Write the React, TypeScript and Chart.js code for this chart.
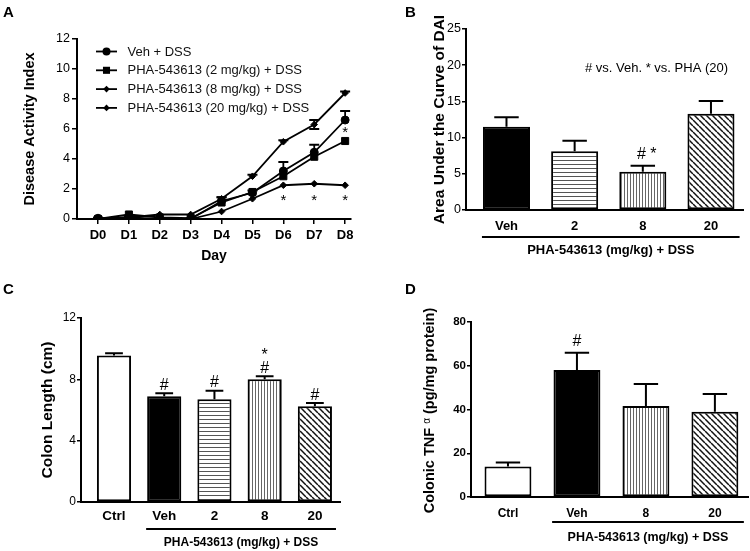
import React, { useEffect, useRef } from 'react';
import { Chart, registerables } from 'chart.js';

Chart.register(...registerables);
Chart.defaults.color = '#000';

const SANS = 'Arial, "Liberation Sans", Helvetica, sans-serif';
Chart.defaults.font.family = SANS;

// ---------------- Panel A : Disease Activity Index ----------------
const dayLabels = ['D0', 'D1', 'D2', 'D3', 'D4', 'D5', 'D6', 'D7', 'D8'];
const daiVeh = [0.05, 0.1, 0.0, 0.0, 1.2, 1.75, 3.2, 4.45, 6.6];
const daiVehErr = [0.05, 0.1, 0.05, 0.05, 0.25, 0.15, 0.6, 0.5, 0.6];
const daiPha2 = [0.0, 0.3, 0.1, 0.05, 1.1, 1.8, 2.85, 4.15, 5.2];
const daiPha8 = [0.0, 0.0, 0.0, 0.0, 0.5, 1.35, 2.25, 2.35, 2.25];
const daiPha20 = [0.0, 0.1, 0.3, 0.3, 1.35, 2.85, 5.15, 6.3, 8.4];
const daiPha20Err = [0, 0, 0, 0, 0.1, 0.1, 0.1, 0.3, 0.1];
const daiLegend = [
  'Veh + DSS',
  'PHA-543613 (2 mg/kg) + DSS',
  'PHA-543613 (8 mg/kg) + DSS',
  'PHA-543613 (20 mg/kg) + DSS',
];
const daiStarDays = [6, 7, 8];
const daiStarLevel = 1.5;
const daiVehStarDay = 8;
const daiVehStarLevel = 6.05;

// ---------------- Panel B : AUC of DAI ----------------
const aucCategories = ['Veh', '2', '8', '20'];
const aucValues = [11.5, 8.1, 5.3, 13.3];
const aucErrors = [1.3, 1.45, 0.8, 1.75];
const aucMarks = [[], [], ['# *'], []];
const aucNote = '# vs. Veh. * vs. PHA (20)';

// ---------------- Panel C : Colon length ----------------
const colonCategories = ['Ctrl', 'Veh', '2', '8', '20'];
const colonValues = [9.55, 6.9, 6.7, 8.0, 6.25];
const colonErrors = [0.15, 0.2, 0.55, 0.2, 0.2];
const colonMarks = [[], ['#'], ['#'], ['#', '*'], ['#']];

// ---------------- Panel D : Colonic TNF alpha ----------------
const tnfCategories = ['Ctrl', 'Veh', '8', '20'];
const tnfValues = [13.9, 58.1, 41.6, 39.0];
const tnfErrors = [1.9, 7.8, 10.1, 8.1];
const tnfMarks = [[], ['#'], [], []];

const groupLabel = 'PHA-543613 (mg/kg) + DSS';

type Fill = 'black' | 'white' | 'hlines' | 'vlines' | 'diag';

function makeFill(kind: Fill): any {
  if (kind === 'black') return '#000';
  if (kind === 'white') return '#fff';
  const c = document.createElement('canvas');
  const ctx = c.getContext('2d')!;
  if (kind === 'hlines') {
    c.width = 4; c.height = 4;
    ctx.fillStyle = '#fff'; ctx.fillRect(0, 0, 4, 4);
    ctx.fillStyle = '#555'; ctx.fillRect(0, 0, 4, 1);
  } else if (kind === 'vlines') {
    c.width = 3; c.height = 3;
    ctx.fillStyle = '#fff'; ctx.fillRect(0, 0, 3, 3);
    ctx.fillStyle = '#666'; ctx.fillRect(0, 0, 1, 3);
  } else {
    c.width = 6; c.height = 6;
    ctx.fillStyle = '#fff'; ctx.fillRect(0, 0, 6, 6);
    ctx.strokeStyle = '#111'; ctx.lineWidth = 1.5;
    for (const o of [-6, 0, 6]) {
      ctx.beginPath(); ctx.moveTo(o, 0); ctx.lineTo(o + 6, 6); ctx.stroke();
    }
  }
  return ctx.createPattern(c, 'repeat');
}

const font = (size: number, bold = false) => `${bold ? 'bold ' : ''}${size}px ${SANS}`;

function drawLetter(ctx: CanvasRenderingContext2D, letter: string, x: number, y: number) {
  ctx.save();
  ctx.fillStyle = '#000';
  ctx.font = font(15, true);
  ctx.textAlign = 'left';
  ctx.textBaseline = 'middle';
  ctx.fillText(letter, x, y);
  ctx.restore();
}

function drawMarker(ctx: CanvasRenderingContext2D, style: string, x: number, y: number, r: number) {
  ctx.beginPath();
  if (style === 'circle') ctx.arc(x, y, r, 0, Math.PI * 2);
  else if (style === 'rect') { const s = r * Math.SQRT1_2; ctx.rect(x - s, y - s, 2 * s, 2 * s); }
  else { ctx.moveTo(x, y - r); ctx.lineTo(x + r, y); ctx.lineTo(x, y + r); ctx.lineTo(x - r, y); ctx.closePath(); }
  ctx.fill();
}

const yGrid = { display: true, drawOnChartArea: false, drawTicks: true, tickLength: 4, color: '#000', lineWidth: 1.5 };
const axisBorder = { display: true, color: '#000', width: 2 };

function configA() {
  const styles = ['circle', 'rect', 'rectRot', 'rectRot'];
  const radii = [4, 5, 3.3, 3.3];
  const series = [daiVeh, daiPha2, daiPha8, daiPha20];
  const datasets = [3, 2, 1, 0].map((k) => ({
    label: daiLegend[k],
    data: series[k].map((v, i) => ({ x: i, y: v })),
    borderColor: '#000',
    backgroundColor: '#000',
    borderWidth: 1.8,
    pointStyle: styles[k],
    pointRadius: radii[k],
    pointHoverRadius: radii[k],
    pointBorderWidth: 1,
    fill: false,
    tension: 0,
  }));
  const extras = {
    id: 'extrasA',
    afterDatasetsDraw(chart: any) {
      const ctx = chart.ctx as CanvasRenderingContext2D;
      const x = chart.scales.x, y = chart.scales.y;
      ctx.save();
      ctx.strokeStyle = '#000';
      ctx.lineWidth = 1.8;
      const bar = (i: number, v: number, e: number, both: boolean) => {
        if (e <= 0) return;
        const px = x.getPixelForValue(i);
        const top = y.getPixelForValue(v + e);
        const bot = y.getPixelForValue(both ? v - e : v);
        ctx.beginPath();
        ctx.moveTo(px, bot); ctx.lineTo(px, top);
        ctx.moveTo(px - 5, top); ctx.lineTo(px + 5, top);
        if (both) { ctx.moveTo(px - 5, bot); ctx.lineTo(px + 5, bot); }
        ctx.stroke();
      };
      daiVeh.forEach((v, i) => bar(i, v, daiVehErr[i], false));
      daiPha20.forEach((v, i) => bar(i, v, daiPha20Err[i], i === 7));
      ctx.restore();
    },
    afterDraw(chart: any) {
      const ctx = chart.ctx as CanvasRenderingContext2D;
      const x = chart.scales.x, y = chart.scales.y;
      ctx.save();
      ctx.font = font(13);
      ctx.textBaseline = 'middle';
      ctx.textAlign = 'left';
      ctx.strokeStyle = '#000';
      ctx.lineWidth = 1.8;
      daiLegend.forEach((t, k) => {
        const ly = 51.5 + k * 18.8;
        ctx.beginPath(); ctx.moveTo(96, ly); ctx.lineTo(117, ly); ctx.stroke();
        ctx.fillStyle = '#000';
        drawMarker(ctx, styles[k], 106.5, ly, radii[k]);
        ctx.fillStyle = '#111';
        ctx.fillText(t, 127.5, ly + 0.5);
      });
      ctx.font = font(15);
      ctx.textAlign = 'center';
      ctx.textBaseline = 'alphabetic';
      ctx.fillStyle = '#000';
      daiStarDays.forEach((d) => ctx.fillText('*', x.getPixelForValue(d), y.getPixelForValue(daiStarLevel) + 8.5));
      ctx.fillText('*', x.getPixelForValue(daiVehStarDay), y.getPixelForValue(daiVehStarLevel) + 8.5);
      ctx.restore();
      drawLetter(ctx, 'A', 3, 12.5);
    },
  };
  return {
    type: 'line',
    data: { datasets },
    plugins: [extras],
    options: {
      responsive: false,
      animation: false,
      events: [],
      layout: { padding: { top: 39, right: 24, left: 0, bottom: 0 } },
      plugins: { legend: { display: false }, tooltip: { enabled: false } },
      scales: {
        x: {
          type: 'linear',
          offset: false,
          min: -0.68,
          max: 8.19,
          afterBuildTicks: (s: any) => { s.ticks = dayLabels.map((_, i) => ({ value: i })); },
          afterFit: (s: any) => { s.height = 56; },
          ticks: {
            callback: (v: any) => dayLabels[v] ?? '',
            font: { family: SANS, size: 13, weight: 'bold' },
            color: '#000', padding: 4, maxRotation: 0, autoSkip: false,
          },
          grid: { ...yGrid, tickLength: 5 },
          border: axisBorder,
          title: { display: true, text: 'Day', color: '#000', font: { family: SANS, size: 14, weight: 'bold' }, padding: { top: 0, bottom: 10 } },
        },
        y: {
          min: 0,
          max: 12,
          afterFit: (s: any) => { s.width = 77; },
          ticks: { stepSize: 2, font: { family: SANS, size: 12.5 }, color: '#000', padding: 2 },
          grid: { ...yGrid, tickLength: 5 },
          border: axisBorder,
          title: { display: true, text: 'Disease Activity Index', color: '#000', font: { family: SANS, size: 14.5, weight: 'bold' }, padding: { top: 21, bottom: 0 } },
        },
      },
    },
  };
}

type BarPanel = {
  letter: string; letterX: number; letterY: number;
  categories: string[]; values: number[]; errors: number[]; fills: Fill[];
  marks: string[][]; markFont: number; markGap: number;
  yMax: number; yStep: number; xMin: number; xMax: number; barPct: number;
  yAxisW: number; xAxisH: number; padTop: number; padRight: number;
  yTickSize: number; yTickBold: boolean; xTickSize: number; xTickPad: number;
  yTitle: string | null; yTitleSize: number; yTitlePad: number;
  groupFrom: number; lineDy: number; labelDy: number; groupFont: number;
  note?: { text: string; x: number; y: number; size: number };
  customTitle?: (chart: any) => void;
};

function barConfig(p: BarPanel) {
  const extras = {
    id: 'extras' + p.letter,
    afterDatasetsDraw(chart: any) {
      const ctx = chart.ctx as CanvasRenderingContext2D;
      const y = chart.scales.y;
      const meta = chart.getDatasetMeta(0);
      ctx.save();
      ctx.strokeStyle = '#000';
      ctx.lineWidth = 2;
      meta.data.forEach((bar: any, i: number) => {
        const top = y.getPixelForValue(p.values[i] + p.errors[i]);
        const base = y.getPixelForValue(p.values[i]);
        const half = bar.width * 0.26;
        ctx.beginPath();
        ctx.moveTo(bar.x, base); ctx.lineTo(bar.x, top);
        ctx.moveTo(bar.x - half, top); ctx.lineTo(bar.x + half, top);
        ctx.stroke();
        ctx.fillStyle = '#000';
        ctx.font = font(p.markFont);
        ctx.textAlign = 'center';
        ctx.textBaseline = 'alphabetic';
        let by = top - p.markGap;
        p.marks[i].forEach((m) => {
          const dy = m === '*' ? p.markFont * 0.3 : 0;
          ctx.fillText(m, bar.x + (m.length > 1 ? 4 : 0), by + dy);
          by -= p.markFont * 1.1;
        });
      });
      ctx.restore();
    },
    afterDraw(chart: any) {
      const ctx = chart.ctx as CanvasRenderingContext2D;
      const x = chart.scales.x;
      const ca = chart.chartArea;
      ctx.save();
      const x0 = x.getPixelForValue(p.groupFrom - 0.36);
      const x1 = x.getPixelForValue(p.categories.length - 1 + 0.42);
      ctx.strokeStyle = '#000';
      ctx.lineWidth = 2;
      ctx.beginPath();
      ctx.moveTo(x0, ca.bottom + p.lineDy); ctx.lineTo(x1, ca.bottom + p.lineDy);
      ctx.stroke();
      ctx.fillStyle = '#000';
      ctx.font = font(p.groupFont, true);
      ctx.textAlign = 'center';
      ctx.textBaseline = 'middle';
      ctx.fillText(groupLabel, (x0 + x1) / 2, ca.bottom + p.labelDy);
      if (p.note) {
        ctx.font = font(p.note.size);
        ctx.textAlign = 'left';
        ctx.fillText(p.note.text, p.note.x, p.note.y);
      }
      ctx.restore();
      if (p.customTitle) p.customTitle(chart);
      drawLetter(ctx, p.letter, p.letterX, p.letterY);
    },
  };
  return {
    type: 'bar',
    data: {
      datasets: [{
        data: p.values.map((v, i) => ({ x: i, y: v })),
        backgroundColor: p.fills.map(makeFill),
        borderColor: '#000',
        borderWidth: 2,
        borderSkipped: false,
        categoryPercentage: 1,
        barPercentage: p.barPct,
      }],
    },
    plugins: [extras],
    options: {
      responsive: false,
      animation: false,
      events: [],
      layout: { padding: { top: p.padTop, right: p.padRight, left: 0, bottom: 0 } },
      plugins: { legend: { display: false }, tooltip: { enabled: false } },
      scales: {
        x: {
          type: 'linear',
          offset: false,
          min: p.xMin,
          max: p.xMax,
          afterBuildTicks: (s: any) => { s.ticks = p.categories.map((_, i) => ({ value: i })); },
          afterFit: (s: any) => { s.height = p.xAxisH; },
          ticks: {
            callback: (v: any) => p.categories[v] ?? '',
            font: { family: SANS, size: p.xTickSize, weight: 'bold' },
            color: '#000', padding: p.xTickPad, maxRotation: 0, autoSkip: false,
          },
          grid: { display: false, drawTicks: false, tickLength: 0, offset: false },
          border: axisBorder,
        },
        y: {
          min: 0,
          max: p.yMax,
          afterFit: (s: any) => { s.width = p.yAxisW; },
          ticks: { stepSize: p.yStep, font: { family: SANS, size: p.yTickSize, weight: p.yTickBold ? 'bold' : 'normal' }, color: '#000', padding: 1 },
          grid: yGrid,
          border: axisBorder,
          title: {
            display: !!p.yTitle,
            text: p.yTitle ?? '',
            color: '#000',
            font: { family: SANS, size: p.yTitleSize, weight: 'bold' },
            padding: { top: p.yTitlePad, bottom: 0 },
          },
        },
      },
    },
  };
}

const panelB: BarPanel = {
  letter: 'B', letterX: 30, letterY: 12.5,
  categories: aucCategories, values: aucValues, errors: aucErrors,
  fills: ['black', 'hlines', 'vlines', 'diag'],
  marks: aucMarks, markFont: 16, markGap: 7,
  yMax: 25, yStep: 5, xMin: -0.594, xMax: 3.47, barPct: 0.69,
  yAxisW: 91, xAxisH: 65, padTop: 29, padRight: 7,
  yTickSize: 12.5, yTickBold: false, xTickSize: 13, xTickPad: 9,
  yTitle: 'Area Under the Curve of DAI', yTitleSize: 15.5, yTitlePad: 55,
  groupFrom: 0, lineDy: 27, labelDy: 40, groupFont: 13,
  note: { text: aucNote, x: 210, y: 68, size: 13 },
};

const panelC: BarPanel = {
  letter: 'C', letterX: 3, letterY: 15,
  categories: colonCategories, values: colonValues, errors: colonErrors,
  fills: ['white', 'black', 'hlines', 'vlines', 'diag'],
  marks: colonMarks, markFont: 16, markGap: 3.5,
  yMax: 12, yStep: 4, xMin: -0.657, xMax: 4.5, barPct: 0.68,
  yAxisW: 81, xAxisH: 49, padTop: 43, padRight: 35,
  yTickSize: 12, yTickBold: false, xTickSize: 13.5, xTickPad: 6.5,
  yTitle: 'Colon Length (cm)', yTitleSize: 15.5, yTitlePad: 38,
  groupFrom: 1, lineDy: 27, labelDy: 41, groupFont: 12,
};

function tnfTitle(chart: any) {
  const ctx = chart.ctx as CanvasRenderingContext2D;
  const ca = chart.chartArea;
  const parts = [
    { t: 'Colonic TNF ', f: font(14.5, true), dy: 0 },
    { t: 'α', f: font(10), dy: -3 },
    { t: ' (pg/mg protein)', f: font(14.5, true), dy: 0 },
  ];
  ctx.save();
  ctx.translate(55, (ca.top + ca.bottom) / 2 + 1);
  ctx.rotate(-Math.PI / 2);
  ctx.fillStyle = '#000';
  ctx.textBaseline = 'middle';
  ctx.textAlign = 'left';
  let total = 0;
  parts.forEach((q) => { ctx.font = q.f; total += ctx.measureText(q.t).width; });
  let x = -total / 2;
  parts.forEach((q) => { ctx.font = q.f; ctx.fillText(q.t, x, q.dy); x += ctx.measureText(q.t).width; });
  ctx.restore();
}

const panelD: BarPanel = {
  letter: 'D', letterX: 30, letterY: 15,
  categories: tnfCategories, values: tnfValues, errors: tnfErrors,
  fills: ['white', 'black', 'vlines', 'diag'],
  marks: tnfMarks, markFont: 16, markGap: 7,
  yMax: 80, yStep: 20, xMin: -0.536, xMax: 3.48, barPct: 0.68,
  yAxisW: 96, xAxisH: 54, padTop: 47, padRight: 2,
  yTickSize: 11.5, yTickBold: true, xTickSize: 12, xTickPad: 9,
  yTitle: null, yTitleSize: 14, yTitlePad: 0,
  groupFrom: 1, lineDy: 25, labelDy: 41, groupFont: 12.5,
  customTitle: tnfTitle,
};

const BOXES = [
  { x: 0, y: 0, w: 375, h: 275 },
  { x: 375, y: 0, w: 375, h: 275 },
  { x: 0, y: 275, w: 375, h: 276 },
  { x: 375, y: 275, w: 375, h: 276 },
];

export default function App() {
  const r0 = useRef<HTMLCanvasElement>(null);
  const r1 = useRef<HTMLCanvasElement>(null);
  const r2 = useRef<HTMLCanvasElement>(null);
  const r3 = useRef<HTMLCanvasElement>(null);
  const refs = [r0, r1, r2, r3];
  useEffect(() => {
    const cfgs: any[] = [configA(), barConfig(panelB), barConfig(panelC), barConfig(panelD)];
    const charts = cfgs.map((cfg, i) => new Chart(refs[i].current as HTMLCanvasElement, cfg));
    return () => charts.forEach((c) => c.destroy());
  }, []);
  return (
    <div style={{ position: 'absolute', left: 0, top: 0, width: 750, height: 551, background: '#fff', overflow: 'hidden' }}>
      {BOXES.map((b, i) => (
        <canvas
          key={i}
          ref={refs[i]}
          width={b.w}
          height={b.h}
          style={{ position: 'absolute', left: b.x, top: b.y, width: b.w, height: b.h }}
        />
      ))}
    </div>
  );
}
